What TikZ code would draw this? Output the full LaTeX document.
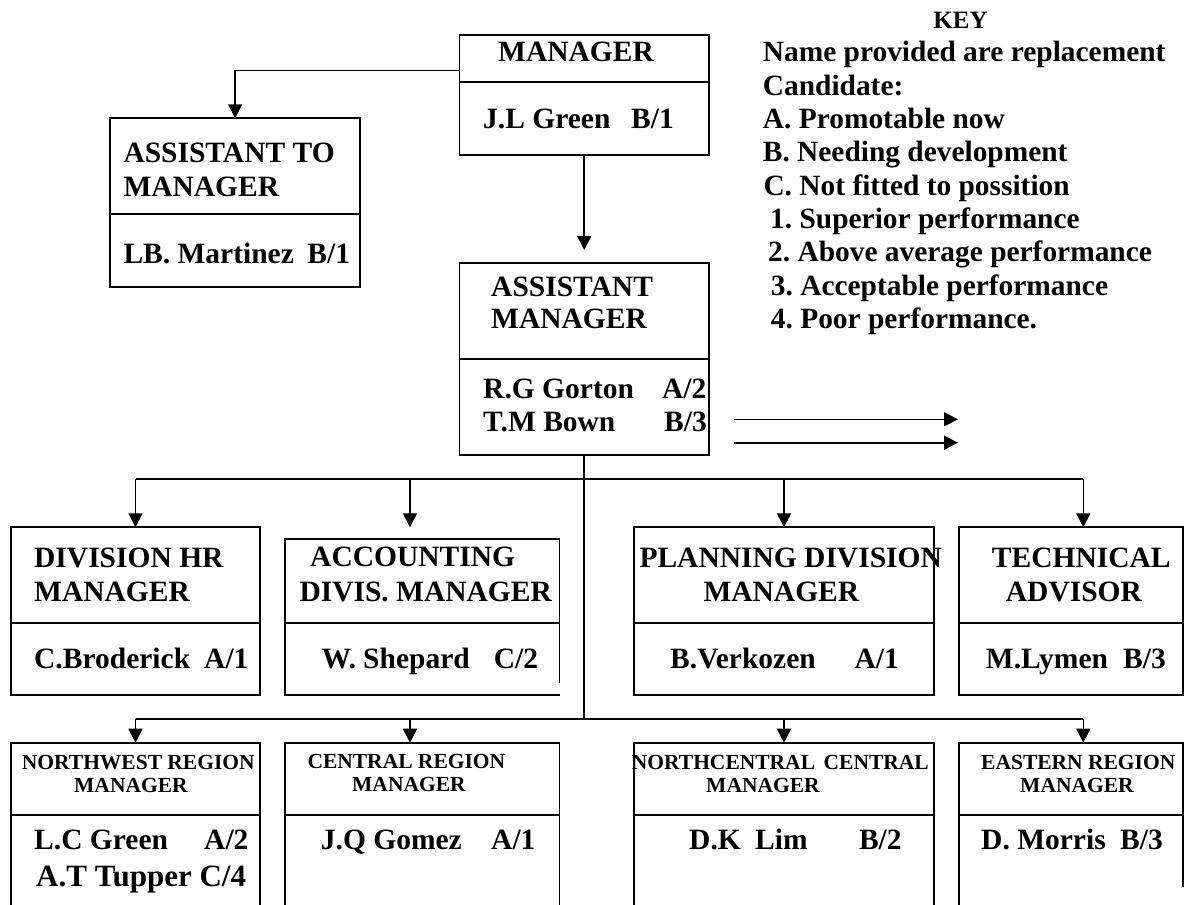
\documentclass[tikz,border=0pt]{standalone}
\usepackage{fontspec}
\setmainfont{Liberation Serif}
\usetikzlibrary{arrows.meta}
\frenchspacing
\newcommand{\namegrade}[3]{\makebox[#1pt][l]{#2}#3}
\tikzset{
  box/.style={draw, line width=1.8pt, anchor=north west, inner sep=0pt, outer sep=0pt},
  arr/.style={line width=1.6pt, -{Triangle[length=14pt,width=14pt]}},
  link/.style={line width=1.6pt},
  lbl/.style={anchor=base west, inner sep=0pt, font=\bfseries\fontsize{29.5}{34}\selectfont},
  lblsmall/.style={lbl, font=\bfseries\fontsize{21.5}{24}\selectfont},
  keytxt/.style={lbl, font=\bfseries\fontsize{29.4}{34}\selectfont},
}
\begin{document}
\begin{tikzpicture}[x=1pt, y=-1pt]
  \useasboundingbox (0,0) rectangle (1184,905);
  \clip (0,0) rectangle (1184,905);
  % boxes: title part, name part below it
  \foreach \nm/\x/\y/\w/\h/\hn in {mgr/459.5/35/249.5/47.3/72.7, atm/110/118.3/250.3/96/72.7,
      asm/459.5/262.7/249.5/96.6/95.7, hr/11/527.3/249/95.7/71.7, pln/634/527.3/300/95.7/71.7,
      tec/958.7/527.3/224.3/95.7/71.7, nw/11/742.7/249/72.3/130, cen/285/742.7/274.5/72.3/130,
      nc/634/742.7/300/72.3/130}
  {
    \node[box, minimum width=\w pt, minimum height=\h pt] (\nm T) at (\x,\y) {};
    \node[box, minimum width=\w pt, minimum height=\hn pt] (\nm N) at (\nm T.south west) {};
  }
  % the two boxes with an open side
  \node[box, minimum width=274.5pt, minimum height=84pt] (accT) at (285,539) {};
  \node[box, draw=none, minimum width=274.5pt, minimum height=71.7pt] (accN) at (accT.south west) {};
  \draw[line width=1.8pt] (accN.north east) -- ++(0,60.3) (accN.north west) |- (accN.south east);
  \node[box, minimum width=224.3pt, minimum height=72.3pt] (easT) at (958.7,742.7) {};
  \node[box, draw=none, minimum width=224.3pt, minimum height=130pt] (easN) at (easT.south west) {};
  \draw[line width=1.8pt] (easN.north west) -- (easN.south west) (easN.north east) -- ++(0,71.7);

  % connectors
  \draw[arr] ([yshift=-12pt]mgrT.west) -| (atmT.north);
  \draw[arr] (mgrN.south) -- ++(0,95);
  \foreach \n/\x in {1/135.5, 2/410, 3/784, 4/1083.3} {
    \coordinate (up\n) at (\x,479);
    \coordinate (lo\n) at (\x,718.7);
  }
  \draw[link] (asmN.south) -- (asmN.south |- lo1);
  \draw[link] (up1) -- (up4) (lo1) -- (lo4);
  \foreach \n in {1,...,4} {
    \draw[arr] (up\n) -- (up\n |- hrT.north);
    \draw[arr] (lo\n) -- (lo\n |- nwT.north);
  }
  \coordinate (s1) at (733.6,419.3); \coordinate (e1) at (958,419.3);
  \coordinate (s2) at (733.6,442.7); \coordinate (e2) at (958,442.7);
  \draw[arr] (s1) -- (e1);
  \draw[arr] (s2) -- (e2);

  % box texts
  \node[lbl] (mgrTx) at (498,61.7) {MANAGER};
  \node[lbl] (mgrNm) at (483,128.3) {\namegrade{148}{J.L Green}{B/1}};
  \node[lbl] (atmTx1) at (123.3,162.7) {ASSISTANT TO};
  \node[lbl] (atmTx2) at (123.3,196) {MANAGER};
  \node[lbl] (atmNm) at (123.3,263.3) {\namegrade{184}{LB. Martinez}{B/1}};
  \node[lbl] (asmTx1) at (491,296.7) {ASSISTANT};
  \node[lbl] (asmTx2) at (491,328) {MANAGER};
  \node[lbl] (asmNm1) at (483,398.3) {\namegrade{179}{R.G Gorton}{A/2}};
  \node[lbl] (asmNm2) at (483,431) {\namegrade{181}{T.M Bown}{B/3}};
  \node[lbl] (hrTx1) at (34,567.7) {DIVISION HR};
  \node[lbl] (hrTx2) at (34,601.7) {MANAGER};
  \node[lbl] (hrNm) at (34,668.3) {\namegrade{170}{C.Broderick}{A/1}};
  \node[lbl] (accTx1) at (310,566.7) {ACCOUNTING};
  \node[lbl] (accTx2) at (299.3,601) {DIVIS. MANAGER};
  \node[lbl] (accNm) at (321.5,668.3) {\namegrade{172.2}{W. Shepard}{C/2}};
  \node[lbl] (plnTx1) at (639.3,567.7) {PLANNING DIVISION};
  \node[lbl] (plnTx2) at (703.3,601.7) {MANAGER};
  \node[lbl] (plnNm) at (670,668.3) {\namegrade{184.4}{B.Verkozen}{A/1}};
  \node[lbl] (tecTx1) at (991.7,567.7) {TECHNICAL};
  \node[lbl] (tecTx2) at (1005.7,601.7) {ADVISOR};
  \node[lbl] (tecNm) at (985.7,668.3) {\namegrade{137.3}{M.Lymen}{B/3}};
  \node[lblsmall] (nwTx1) at (21.7,769.3) {NORTHWEST REGION};
  \node[lblsmall] (nwTx2) at (74,792.7) {MANAGER};
  \node[lbl] (nwNm1) at (34,849.3) {\namegrade{170}{L.C Green}{A/2}};
  \node[lbl, font=\bfseries\fontsize{31}{34}\selectfont] (nwNm2) at (36,886.7) {A.T Tupper C/4};
  \node[lblsmall] (cenTx1) at (307.3,768.3) {CENTRAL REGION};
  \node[lblsmall] (cenTx2) at (352,791.7) {MANAGER};
  \node[lbl] (cenNm) at (320.7,849.3) {\namegrade{170.3}{J.Q Gomez}{A/1}};
  \node[lblsmall] (ncTx1) at (631.7,769.3) {\makebox[191.8pt][l]{NORTHCENTRAL}CENTRAL};
  \node[lblsmall] (ncTx2) at (706,792.7) {MANAGER};
  \node[lbl] (ncNm) at (689,849.3) {\makebox[66pt][l]{D.K}\namegrade{103.8}{Lim}{B/2}};
  \node[lblsmall] (easTx1) at (981,769.3) {EASTERN REGION};
  \node[lblsmall] (easTx2) at (1020,792.7) {MANAGER};
  \node[lbl] (easNm) at (981,849.3) {\namegrade{139}{D. Morris}{B/3}};

  % key
  \node[lbl, anchor=base, font=\bfseries\fontsize{25}{28}\selectfont] (keyHead) at (960.5,28.3) {KEY};
  \foreach \dx/\t [count=\i from 0] in {0/Name provided are replacement, 0/Candidate:,
      0/A. Promotable now, 0/B. Needing development, 0.6/C. Not fitted to possition,
      7.3/1. Superior performance, 5.3/2. Above average performance,
      8/3. Acceptable performance, 8/4. Poor performance.}
    \node[keytxt] (key\i) at (762.7+\dx, 61.7+33.33*\i) {\t};
\end{tikzpicture}
\end{document}
